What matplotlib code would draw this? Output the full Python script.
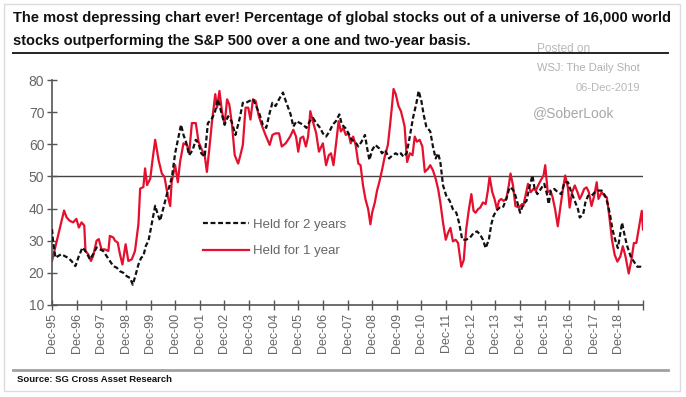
import matplotlib

matplotlib.use('Agg')
import matplotlib.pyplot as plt
from matplotlib.lines import Line2D
from matplotlib.patches import Rectangle

plt.rcParams['font.family'] = ['Liberation Sans', 'DejaVu Sans']

# x positions are years since Dec-1995, values in percent
two_year_t = [
    0.0, 0.04, 0.14, 0.24, 0.38, 0.52, 0.65, 0.79, 0.95, 1.09, 1.24, 1.40, 1.54, 1.67, 1.81, 1.95,
    2.08, 2.22, 2.35, 2.49, 2.63, 2.76, 2.90, 3.03, 3.17, 3.28, 3.40, 3.51, 3.62, 3.71, 3.81, 3.92,
    4.05, 4.19, 4.29, 4.39, 4.53, 4.67, 4.80, 4.88, 5.0, 5.14, 5.24, 5.34, 5.44, 5.57, 5.71, 5.84,
    5.95, 6.06, 6.2, 6.33, 6.47, 6.61, 6.74, 6.88, 7.01, 7.15, 7.29, 7.45, 7.61, 7.75, 7.88, 8.02,
    8.16, 8.29, 8.43, 8.56, 8.7, 8.84, 8.95, 9.08, 9.22, 9.38, 9.49, 9.69, 9.8, 9.93, 10.07, 10.2,
    10.33, 10.47, 10.6, 10.73, 10.89, 11.0, 11.13, 11.27, 11.4, 11.53, 11.67, 11.77, 11.91, 12.04,
    12.17, 12.31, 12.44, 12.57, 12.71, 12.8, 12.89, 13.0, 13.13, 13.29, 13.4, 13.53, 13.69, 13.83,
    13.96, 14.07, 14.17, 14.27, 14.4, 14.53, 14.66, 14.8, 14.89, 15.0, 15.09, 15.2, 15.36, 15.47,
    15.58, 15.68, 15.77, 15.88, 16.01, 16.15, 16.28, 16.42, 16.53, 16.66, 16.8, 16.96, 17.12, 17.26,
    17.39, 17.5, 17.61, 17.74, 17.84, 17.93, 18.04, 18.18, 18.31, 18.45, 18.58, 18.69, 18.78, 18.88,
    19.01, 19.14, 19.27, 19.37, 19.51, 19.6, 19.71, 19.85, 19.99, 20.1, 20.17, 20.26, 20.4, 20.54,
    20.68, 20.81, 20.95, 21.09, 21.23, 21.36, 21.43, 21.57, 21.66, 21.77, 21.91, 22.05, 22.19, 22.32,
    22.46, 22.57, 22.67, 22.76, 22.87, 22.98, 23.08, 23.15, 23.26, 23.36, 23.5, 23.63, 23.77, 23.9,
    24.0]
two_year_pct = [
    33.6, 30.0, 24.7, 25.2, 25.8, 25.2, 24.7, 23.7, 22.1, 25.2, 27.9, 26.3, 24.2, 25.8, 27.9, 27.3,
    26.8, 25.2, 23.7, 22.1, 21.6, 20.5, 20.0, 19.0, 18.4, 16.3, 19.5, 22.6, 24.7, 25.2, 28.4, 30.0,
    35.2, 40.9, 38.3, 36.2, 40.4, 44.6, 47.7, 50.3, 57.2, 62.4, 66.1, 62.9, 60.8, 56.6, 58.2, 61.4,
    60.3, 57.2, 56.1, 66.6, 67.7, 69.8, 74.0, 69.8, 66.1, 68.7, 67.2, 62.9, 67.7, 72.9, 72.9, 73.5,
    74.0, 71.9, 69.3, 66.1, 65.1, 69.8, 72.9, 71.9, 74.0, 76.1, 73.5, 69.3, 65.5, 67.2, 66.6, 66.1,
    65.1, 67.2, 68.2, 66.6, 65.1, 63.4, 62.4, 64.0, 66.1, 67.2, 69.3, 66.1, 65.1, 63.4,
    61.4, 60.8, 59.3, 60.8, 62.9, 58.7, 55.1, 58.2, 59.8, 58.7, 57.2, 58.2, 55.6, 56.6,
    57.2, 56.6, 57.2, 56.1, 57.2, 62.4, 68.2, 72.9, 76.6, 73.5, 69.3, 65.5, 64.0, 59.3,
    55.6, 57.2, 54.5, 47.2, 44.0, 42.4, 39.8, 38.7, 35.6, 30.3, 30.3, 30.8, 32.4, 32.9,
    31.9, 30.3, 27.7, 30.3, 35.1, 37.7, 39.3, 40.3, 40.3, 43.0, 46.6, 46.1, 45.1, 42.4,
    38.7, 41.4, 42.4, 46.1, 50.3, 46.1, 44.5, 46.1, 47.7, 44.5, 41.4, 45.6, 46.1, 45.1,
    44.5, 48.2, 48.2, 45.1, 42.4, 39.8, 37.2, 38.2, 41.9, 44.0, 44.0, 45.1, 45.6, 45.6,
    44.0, 41.4, 37.7, 33.5, 30.3, 27.7, 32.4, 35.6, 31.4, 28.3, 25.1, 23.5, 21.9, 21.9,
    21.4]

one_year_t = [
    0.0, 0.49, 0.59, 0.72, 0.86, 0.99, 1.09, 1.20, 1.31, 1.36, 1.47, 1.58, 1.67, 1.81, 1.90, 2.01,
    2.15, 2.29, 2.35, 2.49, 2.56, 2.67, 2.76, 2.86, 2.99, 3.10, 3.24, 3.37, 3.51, 3.58, 3.71, 3.78,
    3.86, 3.99, 4.08, 4.19, 4.33, 4.46, 4.57, 4.71, 4.80, 4.86, 5.0, 5.11, 5.20, 5.34, 5.48, 5.57,
    5.68, 5.84, 5.95, 6.09, 6.20, 6.29, 6.39, 6.50, 6.63, 6.70, 6.80, 6.90, 7.01, 7.11, 7.20, 7.31,
    7.42, 7.56, 7.65, 7.75, 7.86, 7.97, 8.06, 8.16, 8.27, 8.40, 8.54, 8.67, 8.84, 8.95, 9.08, 9.22,
    9.33, 9.49, 9.67, 9.80, 9.91, 10.0, 10.09, 10.2, 10.31, 10.4, 10.49, 10.63, 10.73, 10.84, 11.0,
    11.13, 11.24, 11.33, 11.43, 11.53, 11.64, 11.73, 11.83, 11.93, 12.04, 12.13, 12.23, 12.33, 12.44,
    12.53, 12.63, 12.73, 12.84, 12.93, 13.0, 13.11, 13.2, 13.29, 13.4, 13.51, 13.64, 13.73, 13.8,
    13.87, 13.96, 14.07, 14.17, 14.27, 14.32, 14.42, 14.53, 14.64, 14.73, 14.82, 14.93, 15.04, 15.14,
    15.27, 15.36, 15.47, 15.58, 15.68, 15.77, 15.88, 15.99, 16.08, 16.18, 16.28, 16.39, 16.49, 16.62,
    16.72, 16.82, 16.93, 17.03, 17.12, 17.2, 17.3, 17.39, 17.5, 17.61, 17.7, 17.77, 17.88, 17.97,
    18.07, 18.15, 18.24, 18.34, 18.45, 18.55, 18.62, 18.72, 18.82, 18.96, 19.09, 19.14, 19.23, 19.33,
    19.44, 19.55, 19.65, 19.74, 19.85, 19.96, 20.03, 20.13, 20.24, 20.33, 20.43, 20.54, 20.65, 20.74,
    20.84, 20.95, 21.02, 21.12, 21.23, 21.34, 21.43, 21.5, 21.61, 21.71, 21.8, 21.91, 22.02, 22.12,
    22.19, 22.32, 22.43, 22.53, 22.63, 22.74, 22.85, 22.96, 23.08, 23.18, 23.29, 23.42, 23.53, 23.63,
    23.73, 23.81, 23.95, 24.0]
one_year_pct = [
    23.7, 39.4, 37.3, 36.2, 35.7, 36.8, 34.1, 35.7, 34.7, 26.8, 25.8, 23.7, 25.2, 30.0, 30.5, 27.3,
    27.3, 26.8, 31.5, 31.0, 30.0, 29.4, 25.8, 22.6, 28.9, 23.7, 24.2, 26.8, 35.2, 46.2, 46.7, 52.5,
    47.3, 49.3, 55.0, 61.4, 55.0, 50.9, 49.8, 43.6, 40.8, 48.2, 53.5, 48.2, 54.5, 60.3, 59.8, 57.2,
    66.6, 66.6, 60.8, 58.2, 56.6, 51.4, 58.7, 67.2, 75.6, 71.4, 76.6, 70.3, 66.1, 74.0, 72.4, 66.1,
    56.6, 54.0, 56.6, 59.8, 71.4, 71.4, 67.7, 74.0, 73.5, 68.7, 65.5, 62.9, 59.8, 62.9, 63.4, 63.4,
    59.3, 60.3, 62.4, 64.5, 62.4, 57.7, 61.9, 62.4, 59.3, 62.4, 70.3, 66.1, 63.4, 57.7, 60.3,
    53.5, 56.6, 57.2, 53.5, 59.8, 67.2, 64.0, 65.1, 62.9, 63.4, 60.3, 62.4, 59.8, 54.0,
    53.5, 47.2, 42.9, 39.8, 35.1, 38.7, 41.9, 45.6, 48.2, 51.9, 56.1, 59.8, 66.1, 71.4,
    77.2, 75.6, 71.9, 70.3, 67.2, 65.5, 54.5, 57.2, 56.6, 62.4, 60.8, 61.4, 59.3, 51.4,
    52.4, 53.5, 51.9, 49.3, 46.1, 41.9, 35.6, 30.3, 32.4, 34.0, 29.8, 30.3, 29.3, 21.9,
    24.0, 33.5, 39.8, 44.5, 39.3, 38.7, 39.8, 40.3, 41.9, 41.4, 45.6, 49.9, 45.1, 43.0,
    39.8, 42.4, 43.0, 42.4, 43.0, 47.2, 50.9, 47.2, 40.8, 40.3, 41.4, 40.8, 44.0, 47.7,
    45.1, 46.1, 45.6, 47.2, 48.8, 50.3, 53.5, 45.1, 45.6, 43.5, 39.8, 34.5, 40.8, 45.6,
    50.3, 46.6, 40.3, 45.1, 47.2, 45.1, 43.0, 44.0, 46.1, 46.6, 45.1, 40.8, 44.0, 48.2,
    43.0, 45.1, 44.0, 43.5, 37.7, 30.3, 25.6, 23.5, 25.1, 28.3, 25.1, 19.8, 24.0, 29.3,
    29.3, 32.9, 39.3, 33.5]

tick_labels = ['Dec-%02d' % (y % 100) for y in range(1995, 2019)] + ['']
y_ticks = [10, 20, 30, 40, 50, 60, 70, 80]

W, H = 686, 397
RED = '#e4102e'
GRAY_TXT = '#666666'


def fx(px):
    return px / W


def fy(py):
    return 1 - py / H


fig = plt.figure(figsize=(W / 100, H / 100), dpi=100)
fig.patch.set_facecolor('white')

# outer frame
fig.add_artist(Rectangle((fx(4), fy(391)), fx(676), 387 / H, transform=fig.transFigure,
                         fill=False, edgecolor='#dcdcdc', linewidth=1.0))

# title
fig.text(fx(13), fy(18), 'The most depressing chart ever! Percentage of global stocks out of a universe of 16,000 world',
         fontsize=10.5, fontweight='bold', va='center', ha='left', color='#111111')
fig.text(fx(13), fy(41), 'stocks outperforming the S&P 500 over a one and two-year basis.',
         fontsize=10.5, fontweight='bold', va='center', ha='left', color='#111111')
fig.add_artist(Line2D([fx(13), fx(668)], [fy(53), fy(53)], transform=fig.transFigure,
                      color='#222222', linewidth=1.4))

# watermark texts
fig.text(fx(537), fy(49), 'Posted on', fontsize=8.5, color='#b8b8b8', ha='left', va='center')
fig.text(fx(640), fy(68), 'WSJ: The Daily Shot', fontsize=8, color='#b0b0b0', ha='right', va='center')
fig.text(fx(640), fy(88), '06-Dec-2019', fontsize=8, color='#b8b8b8', ha='right', va='center')
fig.text(fx(533), fy(113), '@SoberLook', fontsize=10, color='#a8a8a8', ha='left', va='center')

# chart
ax = fig.add_axes([fx(52), fy(305), fx(591), 225 / H])
ax.set_facecolor('none')
ax.axhline(50, color='#444444', linewidth=1.0, zorder=1)
ax.plot(two_year_t, two_year_pct, color='#111111', linewidth=1.6, dashes=(2.2, 1.2),
        label='Held for 2 years', zorder=3)
ax.plot(one_year_t, one_year_pct, color=RED, linewidth=1.6, label='Held for 1 year', zorder=2)

ax.set_xlim(0, 24)
ax.set_ylim(10, 80)
ax.set_xticks(range(len(tick_labels)))
ax.set_xticklabels(tick_labels, rotation=90, fontsize=9, color=GRAY_TXT)
ax.set_yticks(y_ticks)
ax.set_yticklabels([str(v) for v in y_ticks], fontsize=10, color=GRAY_TXT)
ax.tick_params(direction='inout', length=7, width=1.0, color='#555555', pad=2)
for side in ('top', 'right'):
    ax.spines[side].set_visible(False)
for side in ('left', 'bottom'):
    ax.spines[side].set_color('#555555')
    ax.spines[side].set_linewidth(1.2)

leg = ax.legend(loc='upper left', bbox_to_anchor=(0.255, 0.385), frameon=False, fontsize=9.5,
                handlelength=3.5, handletextpad=0.3, labelspacing=1.1, borderaxespad=0, borderpad=0)
for t in leg.get_texts():
    t.set_color(GRAY_TXT)

# source
fig.add_artist(Line2D([fx(13), fx(668)], [fy(370), fy(370)], transform=fig.transFigure,
                      color='#a0a0a0', linewidth=2.0))
fig.text(fx(17), fy(379), 'Source: SG Cross Asset Research', fontsize=6.8, fontweight='bold',
         ha='left', va='center', color='#111111')

plt.savefig('out.png', dpi=100)
